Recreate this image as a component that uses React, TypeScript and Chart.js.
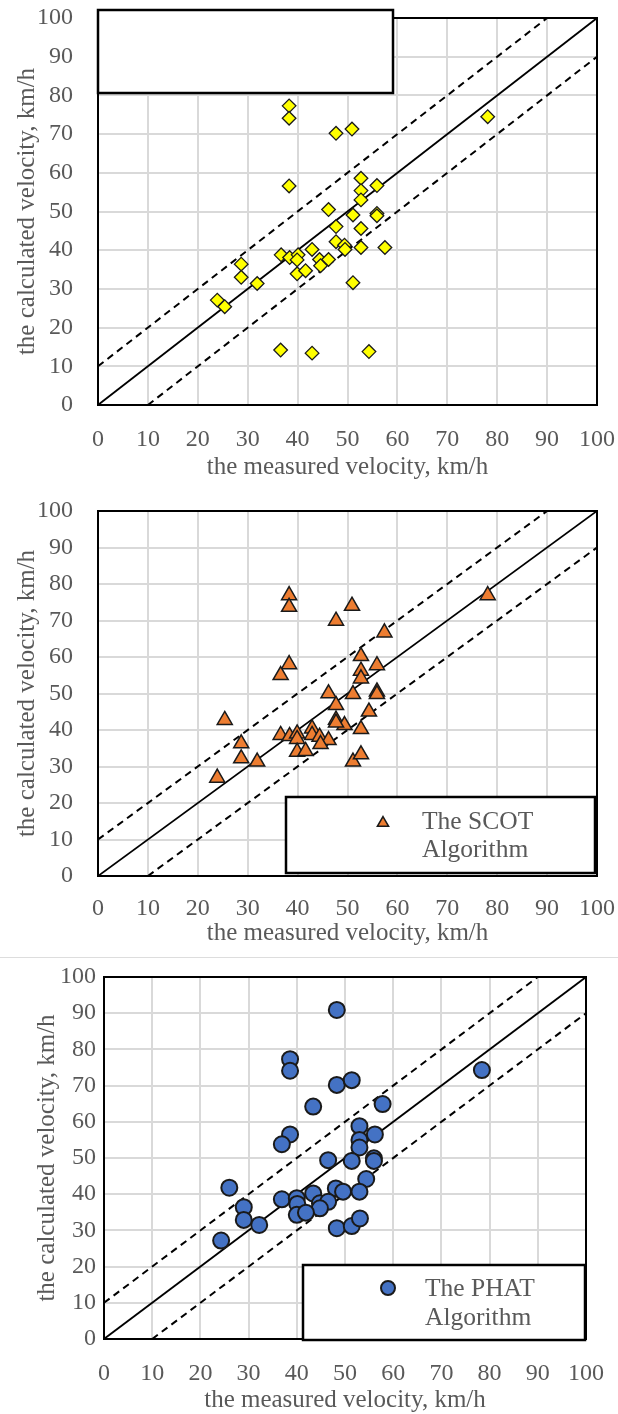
import React, { useEffect, useRef } from "react";
import { Chart, registerables } from "chart.js";
import { drawPoint } from "chart.js/helpers";

Chart.register(...registerables);

// ---------------- data ----------------
const AXIS_MIN = 0;
const AXIS_MAX = 100;
const AXIS_STEP = 10;
const X_TITLE = "the measured velocity, km/h";
const Y_TITLE = "the calculated velocity, km/h";

// reference lines (measured, calculated)
const IDEAL_LINE: number[][] = [[0, 0], [100, 100]];
const UPPER_LINE: number[][] = [[0, 10], [90, 100]];
const LOWER_LINE: number[][] = [[10, 0], [100, 90]];

// panel 1 : yellow diamonds (no legend text)
const DIAMOND_POINTS: number[][] = [
  [38.3, 77.3], [38.3, 74.1], [47.7, 70.2], [50.9, 71.3], [78.1, 74.5],
  [38.3, 56.6], [52.7, 58.6], [55.9, 56.7], [52.7, 55.4], [52.7, 53.0],
  [46.2, 50.5], [51.1, 49.1], [55.9, 49.5], [55.9, 48.9], [47.7, 46.1],
  [52.7, 45.6], [47.7, 42.2], [49.4, 41.3], [49.5, 40.2], [52.7, 40.7],
  [57.5, 40.7], [42.9, 40.2], [36.7, 38.8], [38.4, 38.1], [40.1, 38.8],
  [39.9, 37.5], [44.4, 37.6], [46.2, 37.6], [44.6, 36.0], [39.9, 33.9],
  [41.6, 34.7], [28.7, 36.4], [28.7, 33.0], [31.9, 31.4], [51.1, 31.6],
  [23.9, 27.1], [25.4, 25.4], [36.6, 14.2], [42.9, 13.4], [54.3, 13.8],
];

// panel 2 : SCOT algorithm (orange triangles)
const SCOT_LABEL = ["The SCOT", "Algorithm"];
const SCOT_POINTS: number[][] = [
  [38.3, 76.9], [38.3, 73.7], [50.9, 74.0], [47.7, 69.9], [57.4, 66.7],
  [78.1, 76.9], [38.3, 58.0], [36.6, 55.0], [52.7, 60.2], [55.9, 57.7],
  [52.7, 56.2], [52.7, 54.1], [46.2, 50.0], [51.1, 49.8], [55.9, 50.5],
  [55.9, 49.8], [47.7, 46.8], [54.3, 45.0], [25.4, 42.7], [47.7, 42.8],
  [49.4, 41.3], [52.7, 40.2], [42.9, 40.4], [42.9, 38.6], [36.6, 38.6],
  [38.4, 38.3], [39.9, 39.0], [39.9, 37.5], [44.4, 38.1], [46.2, 37.2],
  [44.6, 36.1], [39.9, 34.0], [41.6, 34.2], [28.7, 36.3], [28.7, 32.2],
  [31.9, 31.3], [51.1, 31.3], [52.7, 33.3], [23.9, 26.9], [47.7, 42.0],
];

// panel 3 : PHAT algorithm (blue circles)
const PHAT_LABEL = ["The PHAT", "Algorithm"];
const PHAT_POINTS: number[][] = [
  [48.3, 90.9], [38.6, 77.3], [38.6, 74.1], [48.3, 70.2], [51.4, 71.5],
  [43.4, 64.2], [57.8, 64.9], [78.4, 74.3], [38.6, 56.5], [36.9, 53.8],
  [53.0, 58.8], [56.2, 56.5], [53.0, 55.0], [53.0, 52.9], [46.5, 49.4],
  [51.4, 49.2], [56.0, 49.9], [56.0, 49.2], [54.4, 44.2], [26.0, 41.8],
  [48.1, 41.6], [49.6, 40.7], [53.0, 40.7], [43.4, 40.2], [36.9, 38.6],
  [40.0, 38.9], [40.1, 37.3], [44.8, 37.5], [46.5, 37.9], [44.8, 36.1],
  [40.0, 34.3], [41.9, 34.9], [29.0, 36.4], [29.0, 32.9], [32.2, 31.5],
  [48.3, 30.6], [51.4, 31.2], [53.1, 33.3], [24.3, 27.2],
];

// ---------------- styles ----------------
const FONT_FAMILY = '"Liberation Serif", "Times New Roman", serif';
const TEXT_GREY = "#595959";
const GRID_GREY = "#d9d9d9";

type Legend = {
  box: [number, number, number, number];
  lines: string[];
  markerX: number;
  markerY: number;
  markerRadius: number;
  textX: number;
  textY: number;
  lineGap: number;
};

type Panel = {
  top: number;
  height: number;
  area: { left: number; right: number; top: number; bottom: number };
  points: number[][];
  label: string;
  pointStyle: string;
  radius: number;
  fill: string;
  borderWidth: number;
  yTickPad: number;
  yTitlePad: number;
  xTickPad: number;
  xTitlePad: number;
  legend: Legend;
};

const WIDTH = 618;

const PANELS: Panel[] = [
  {
    top: 0,
    height: 480,
    area: { left: 98, right: 597, top: 18, bottom: 405 },
    points: DIAMOND_POINTS,
    label: "",
    pointStyle: "rectRot",
    radius: 6.8,
    fill: "#ffff00",
    borderWidth: 1.3,
    yTickPad: 25,
    yTitlePad: 14.5,
    xTickPad: 20,
    xTitlePad: 0.5,
    legend: { box: [98, 10, 393, 93], lines: [], markerX: 0, markerY: 0, markerRadius: 0, textX: 0, textY: 0, lineGap: 0 },
  },
  {
    top: 480,
    height: 477,
    area: { left: 98, right: 597, top: 31, bottom: 396 },
    points: SCOT_POINTS,
    label: SCOT_LABEL.join(" "),
    pointStyle: "triangle",
    radius: 8.7,
    fill: "#ed7d31",
    borderWidth: 1.5,
    yTickPad: 25,
    yTitlePad: 14.5,
    xTickPad: 18,
    xTitlePad: 11.5,
    legend: { box: [286, 317, 595, 393], lines: SCOT_LABEL, markerX: 383, markerY: 343, markerRadius: 6.5, textX: 422, textY: 342, lineGap: 28 },
  },
  {
    top: 958,
    height: 456,
    area: { left: 104, right: 586, top: 19, bottom: 381 },
    points: PHAT_POINTS,
    label: PHAT_LABEL.join(" "),
    pointStyle: "circle",
    radius: 8,
    fill: "#4472c4",
    borderWidth: 2,
    yTickPad: 8,
    yTitlePad: 34.5,
    xTickPad: 20,
    xTitlePad: 1.5,
    legend: { box: [303, 307, 585, 382], lines: PHAT_LABEL, markerX: 388, markerY: 330, markerRadius: 7, textX: 425, textY: 331, lineGap: 29 },
  },
];

const toXY = (pts: number[][]) => pts.map(([x, y]) => ({ x, y }));

const framePlugin = {
  id: "plotFrame",
  beforeDatasetsDraw(chart: any) {
    const { ctx, chartArea } = chart;
    ctx.save();
    ctx.strokeStyle = "#000";
    ctx.lineWidth = 2;
    ctx.strokeRect(chartArea.left, chartArea.top, chartArea.right - chartArea.left, chartArea.bottom - chartArea.top);
    ctx.restore();
  },
};

function legendPlugin(p: Panel) {
  return {
    id: "boxLegend",
    afterDatasetsDraw(chart: any) {
      const ctx = chart.ctx;
      const lg = p.legend;
      const [x1, y1, x2, y2] = lg.box;
      ctx.save();
      ctx.fillStyle = "#ffffff";
      ctx.fillRect(x1, y1, x2 - x1, y2 - y1);
      ctx.strokeStyle = "#000";
      ctx.lineWidth = 2.5;
      ctx.strokeRect(x1, y1, x2 - x1, y2 - y1);
      if (lg.lines.length) {
        ctx.fillStyle = p.fill;
        ctx.strokeStyle = "#1a1a1a";
        ctx.lineWidth = p.borderWidth;
        drawPoint(ctx, { pointStyle: p.pointStyle as any, radius: lg.markerRadius, rotation: 0, borderWidth: p.borderWidth }, lg.markerX, lg.markerY);
        ctx.fillStyle = TEXT_GREY;
        ctx.font = `25.5px ${FONT_FAMILY}`;
        ctx.textBaseline = "middle";
        ctx.textAlign = "left";
        lg.lines.forEach((t, i) => ctx.fillText(t, lg.textX, lg.textY + i * lg.lineGap));
      }
      ctx.restore();
    },
  };
}

function buildConfig(p: Panel): any {
  const lineDs = (pts: number[][], dash: number[]) => ({
    type: "line",
    data: toXY(pts),
    showLine: true,
    borderColor: "#000",
    borderWidth: dash.length ? 2 : 1.8,
    borderDash: dash,
    pointRadius: 0,
    fill: false,
    order: 1,
  });
  const tickFont = { family: FONT_FAMILY, size: 24 };
  const titleFont = { family: FONT_FAMILY, size: 25, lineHeight: 1 };
  return {
    type: "scatter",
    data: {
      datasets: [
        {
          label: p.label,
          data: toXY(p.points),
          pointStyle: p.pointStyle,
          pointRadius: p.radius,
          pointBackgroundColor: p.fill,
          pointBorderColor: "#1a1a1a",
          pointBorderWidth: p.borderWidth,
          showLine: false,
          order: 0,
        },
        lineDs(IDEAL_LINE, []),
        lineDs(UPPER_LINE, [7, 5]),
        lineDs(LOWER_LINE, [7, 5]),
      ],
    },
    options: {
      responsive: false,
      animation: false,
      devicePixelRatio: 1,
      layout: { padding: { top: p.area.top, right: WIDTH - p.area.right, left: 0, bottom: 0 } },
      plugins: { legend: { display: false }, tooltip: { enabled: false } },
      scales: {
        x: {
          type: "linear",
          min: AXIS_MIN,
          max: AXIS_MAX,
          ticks: { stepSize: AXIS_STEP, color: TEXT_GREY, font: tickFont, padding: p.xTickPad, maxRotation: 0, autoSkip: false },
          grid: { color: GRID_GREY, lineWidth: 2, drawTicks: false },
          border: { display: false },
          title: { display: true, text: X_TITLE, color: TEXT_GREY, font: titleFont, padding: { top: 0, bottom: p.xTitlePad } },
          afterFit: (s: any) => {
            s.height = p.height - p.area.bottom;
            s.paddingLeft = 0;
            s.paddingRight = 0;
          },
        },
        y: {
          type: "linear",
          min: AXIS_MIN,
          max: AXIS_MAX,
          ticks: { stepSize: AXIS_STEP, color: TEXT_GREY, font: tickFont, padding: p.yTickPad, autoSkip: false },
          grid: { color: GRID_GREY, lineWidth: 2, drawTicks: false },
          border: { display: false },
          title: { display: true, text: Y_TITLE, color: TEXT_GREY, font: titleFont, padding: { top: p.yTitlePad, bottom: 0 } },
          afterFit: (s: any) => {
            s.width = p.area.left;
            s.paddingTop = 0;
            s.paddingBottom = 0;
          },
        },
      },
    },
    plugins: [framePlugin, legendPlugin(p)],
  };
}

function ChartPanel({ p }: { p: Panel }) {
  const ref = useRef<HTMLCanvasElement>(null);
  useEffect(() => {
    if (!ref.current) return;
    const chart = new Chart(ref.current, buildConfig(p));
    return () => chart.destroy();
  }, [p]);
  return (
    <canvas
      ref={ref}
      width={WIDTH}
      height={p.height}
      style={{ position: "absolute", left: 0, top: p.top, width: WIDTH, height: p.height }}
    />
  );
}

export default function App() {
  return (
    <div style={{ position: "absolute", left: 0, top: 0, width: WIDTH, height: 1414, background: "#fff", overflow: "hidden" }}>
      {PANELS.map((p, i) => (
        <ChartPanel key={i} p={p} />
      ))}
      <div style={{ position: "absolute", left: 0, top: 957, width: WIDTH, height: 1, background: "#dddddd" }} />
    </div>
  );
}
